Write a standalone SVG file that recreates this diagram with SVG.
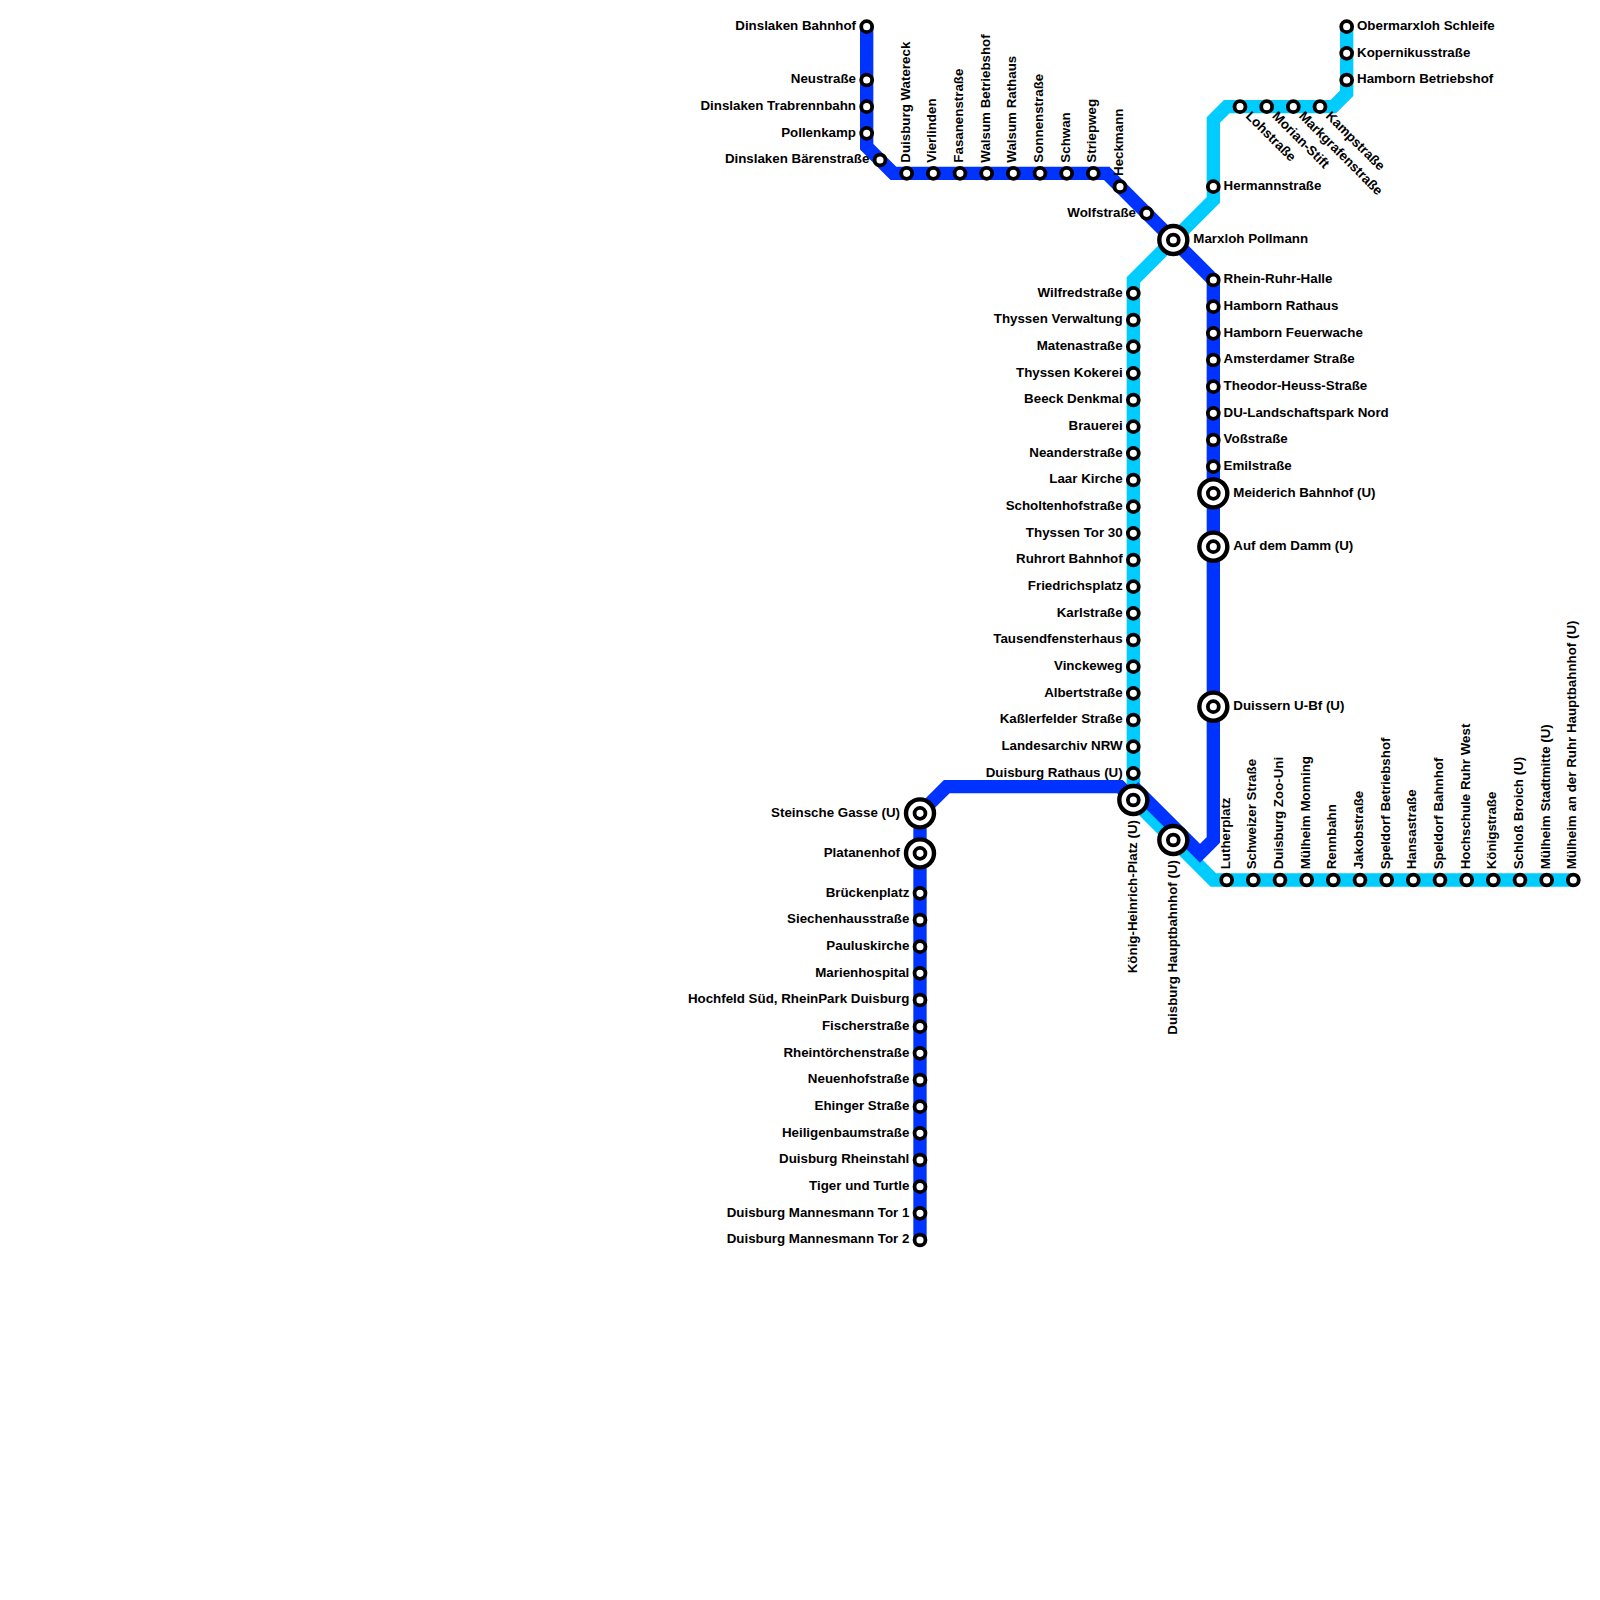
<svg xmlns="http://www.w3.org/2000/svg" width="1600" height="1600" viewBox="0 0 1600 1600">
<style>
text{font-family:"Liberation Sans",Arial,sans-serif;font-weight:bold;font-size:13.33px;fill:#000}
.l{text-anchor:end}
.line{fill:none;stroke-width:13.33;stroke-linejoin:miter}
.s{fill:#fff;stroke:#000;stroke-width:3.8}
.o{fill:#fff;stroke:#000;stroke-width:4.4}
</style>
<defs>
<circle id="st" class="s" r="5.45"/>
<g id="ic"><circle class="o" r="14"/><circle class="s" r="5.45"/></g>
</defs>
<rect width="1600" height="1600" fill="#fff"/>
<g id="connectors">
<path class="line" stroke="#00ccff" d="M1346.67,26.67V93.33L1333.33,106.67H1226.67L1213.33,120V200L1133.33,280V800L1213.33,880H1573.33"/>
<path class="line" stroke="#0033ff" d="M866.67,26.67V146.67L893.33,173.33H1106.67L1213.33,280V840L1200,853.33L1133.33,786.67"/>
<path class="line" stroke="#0033ff" d="M920,1240V813.33L946.67,786.67H1120L1133.33,800"/>
</g>
<g id="n1"><use href="#st" x="866.67" y="26.67"/><text class="l" x="856" y="30">Dinslaken Bahnhof</text></g>
<g id="n2"><use href="#st" x="866.67" y="80"/><text class="l" x="856" y="83.33">Neustraße</text></g>
<g id="n3"><use href="#st" x="866.67" y="106.67"/><text class="l" x="856" y="110">Dinslaken Trabrennbahn</text></g>
<g id="n4"><use href="#st" x="866.67" y="133.33"/><text class="l" x="856" y="136.67">Pollenkamp</text></g>
<g id="n5"><use href="#st" x="880" y="160"/><text class="l" x="869.33" y="163.33">Dinslaken Bärenstraße</text></g>
<g id="n6"><use href="#st" x="906.67" y="173.33"/><text transform="translate(909.7,162.67) rotate(-90)">Duisburg Watereck</text></g>
<g id="n7"><use href="#st" x="933.33" y="173.33"/><text transform="translate(936.33,162.67) rotate(-90)">Vierlinden</text></g>
<g id="n8"><use href="#st" x="960" y="173.33"/><text transform="translate(963,162.67) rotate(-90)">Fasanenstraße</text></g>
<g id="n9"><use href="#st" x="986.67" y="173.33"/><text transform="translate(989.67,162.67) rotate(-90)">Walsum Betriebshof</text></g>
<g id="n10"><use href="#st" x="1013.33" y="173.33"/><text transform="translate(1016.33,162.67) rotate(-90)">Walsum Rathaus</text></g>
<g id="n11"><use href="#st" x="1040" y="173.33"/><text transform="translate(1043,162.67) rotate(-90)">Sonnenstraße</text></g>
<g id="n12"><use href="#st" x="1066.67" y="173.33"/><text transform="translate(1069.67,162.67) rotate(-90)">Schwan</text></g>
<g id="n13"><use href="#st" x="1093.33" y="173.33"/><text transform="translate(1096.33,162.67) rotate(-90)">Striepweg</text></g>
<g id="n14"><use href="#st" x="1120" y="186.67"/><text transform="translate(1123,176) rotate(-90)">Heckmann</text></g>
<g id="n15"><use href="#st" x="1146.67" y="213.33"/><text class="l" x="1136" y="216.67">Wolfstraße</text></g>
<g id="n16"><use href="#ic" x="1173.33" y="240"/><text x="1193.33" y="243.33">Marxloh Pollmann</text></g>
<g id="n17"><use href="#st" x="1213.33" y="280"/><text x="1223.6" y="283.33">Rhein-Ruhr-Halle</text></g>
<g id="n18"><use href="#st" x="1213.33" y="306.67"/><text x="1223.6" y="310">Hamborn Rathaus</text></g>
<g id="n19"><use href="#st" x="1213.33" y="333.33"/><text x="1223.6" y="336.67">Hamborn Feuerwache</text></g>
<g id="n20"><use href="#st" x="1213.33" y="360"/><text x="1223.6" y="363.33">Amsterdamer Straße</text></g>
<g id="n21"><use href="#st" x="1213.33" y="386.67"/><text x="1223.6" y="390">Theodor-Heuss-Straße</text></g>
<g id="n22"><use href="#st" x="1213.33" y="413.33"/><text x="1223.6" y="416.67">DU-Landschaftspark Nord</text></g>
<g id="n23"><use href="#st" x="1213.33" y="440"/><text x="1223.6" y="443.33">Voßstraße</text></g>
<g id="n24"><use href="#st" x="1213.33" y="466.67"/><text x="1223.6" y="470">Emilstraße</text></g>
<g id="n25"><use href="#ic" x="1213.33" y="493.33"/><text x="1233.33" y="496.67">Meiderich Bahnhof (U)</text></g>
<g id="n26"><use href="#ic" x="1213.33" y="546.67"/><text x="1233.33" y="550">Auf dem Damm (U)</text></g>
<g id="n27"><use href="#ic" x="1213.33" y="706.67"/><text x="1233.33" y="710">Duissern U-Bf (U)</text></g>
<g id="n28"><use href="#st" x="1133.33" y="293.33"/><text class="l" x="1122.67" y="296.67">Wilfredstraße</text></g>
<g id="n29"><use href="#st" x="1133.33" y="320"/><text class="l" x="1122.67" y="323.33">Thyssen Verwaltung</text></g>
<g id="n30"><use href="#st" x="1133.33" y="346.67"/><text class="l" x="1122.67" y="350">Matenastraße</text></g>
<g id="n31"><use href="#st" x="1133.33" y="373.33"/><text class="l" x="1122.67" y="376.67">Thyssen Kokerei</text></g>
<g id="n32"><use href="#st" x="1133.33" y="400"/><text class="l" x="1122.67" y="403.33">Beeck Denkmal</text></g>
<g id="n33"><use href="#st" x="1133.33" y="426.67"/><text class="l" x="1122.67" y="430">Brauerei</text></g>
<g id="n34"><use href="#st" x="1133.33" y="453.33"/><text class="l" x="1122.67" y="456.67">Neanderstraße</text></g>
<g id="n35"><use href="#st" x="1133.33" y="480"/><text class="l" x="1122.67" y="483.33">Laar Kirche</text></g>
<g id="n36"><use href="#st" x="1133.33" y="506.67"/><text class="l" x="1122.67" y="510">Scholtenhofstraße</text></g>
<g id="n37"><use href="#st" x="1133.33" y="533.33"/><text class="l" x="1122.67" y="536.67">Thyssen Tor 30</text></g>
<g id="n38"><use href="#st" x="1133.33" y="560"/><text class="l" x="1122.67" y="563.33">Ruhrort Bahnhof</text></g>
<g id="n39"><use href="#st" x="1133.33" y="586.67"/><text class="l" x="1122.67" y="590">Friedrichsplatz</text></g>
<g id="n40"><use href="#st" x="1133.33" y="613.33"/><text class="l" x="1122.67" y="616.67">Karlstraße</text></g>
<g id="n41"><use href="#st" x="1133.33" y="640"/><text class="l" x="1122.67" y="643.33">Tausendfensterhaus</text></g>
<g id="n42"><use href="#st" x="1133.33" y="666.67"/><text class="l" x="1122.67" y="670">Vinckeweg</text></g>
<g id="n43"><use href="#st" x="1133.33" y="693.33"/><text class="l" x="1122.67" y="696.67">Albertstraße</text></g>
<g id="n44"><use href="#st" x="1133.33" y="720"/><text class="l" x="1122.67" y="723.33">Kaßlerfelder Straße</text></g>
<g id="n45"><use href="#st" x="1133.33" y="746.67"/><text class="l" x="1122.67" y="750">Landesarchiv NRW</text></g>
<g id="n46"><use href="#st" x="1133.33" y="773.33"/><text class="l" x="1122.67" y="776.67">Duisburg Rathaus (U)</text></g>
<g id="n47"><use href="#ic" x="1133.33" y="800"/><text class="l" transform="translate(1137,820) rotate(-90)">König-Heinrich-Platz (U)</text></g>
<g id="n48"><use href="#ic" x="1173.33" y="840"/><text class="l" transform="translate(1177,860) rotate(-90)">Duisburg Hauptbahnhof (U)</text></g>
<g id="n49"><use href="#st" x="1226.67" y="880"/><text transform="translate(1229.67,869.33) rotate(-90)">Lutherplatz</text></g>
<g id="n50"><use href="#st" x="1253.33" y="880"/><text transform="translate(1256.33,869.33) rotate(-90)">Schweizer Straße</text></g>
<g id="n51"><use href="#st" x="1280" y="880"/><text transform="translate(1283,869.33) rotate(-90)">Duisburg Zoo-Uni</text></g>
<g id="n52"><use href="#st" x="1306.67" y="880"/><text transform="translate(1309.67,869.33) rotate(-90)">Mülheim Monning</text></g>
<g id="n53"><use href="#st" x="1333.33" y="880"/><text transform="translate(1336.33,869.33) rotate(-90)">Rennbahn</text></g>
<g id="n54"><use href="#st" x="1360" y="880"/><text transform="translate(1363,869.33) rotate(-90)">Jakobstraße</text></g>
<g id="n55"><use href="#st" x="1386.67" y="880"/><text transform="translate(1389.67,869.33) rotate(-90)">Speldorf Betriebshof</text></g>
<g id="n56"><use href="#st" x="1413.33" y="880"/><text transform="translate(1416.33,869.33) rotate(-90)">Hansastraße</text></g>
<g id="n57"><use href="#st" x="1440" y="880"/><text transform="translate(1443,869.33) rotate(-90)">Speldorf Bahnhof</text></g>
<g id="n58"><use href="#st" x="1466.67" y="880"/><text transform="translate(1469.67,869.33) rotate(-90)">Hochschule Ruhr West</text></g>
<g id="n59"><use href="#st" x="1493.33" y="880"/><text transform="translate(1496.33,869.33) rotate(-90)">Königstraße</text></g>
<g id="n60"><use href="#st" x="1520" y="880"/><text transform="translate(1523,869.33) rotate(-90)">Schloß Broich (U)</text></g>
<g id="n61"><use href="#st" x="1546.67" y="880"/><text transform="translate(1549.67,869.33) rotate(-90)">Mülheim Stadtmitte (U)</text></g>
<g id="n62"><use href="#st" x="1573.33" y="880"/><text transform="translate(1576.33,869.33) rotate(-90)">Mülheim an der Ruhr Hauptbahnhof (U)</text></g>
<g id="n63"><use href="#st" x="1346.67" y="26.67"/><text x="1357" y="30">Obermarxloh Schleife</text></g>
<g id="n64"><use href="#st" x="1346.67" y="53.33"/><text x="1357" y="56.67">Kopernikusstraße</text></g>
<g id="n65"><use href="#st" x="1346.67" y="80"/><text x="1357" y="83.33">Hamborn Betriebshof</text></g>
<g id="n66"><use href="#st" x="1320" y="106.67"/><text transform="translate(1324.9,116.8) rotate(45)">Kampstraße</text></g>
<g id="n67"><use href="#st" x="1293.33" y="106.67"/><text transform="translate(1298.2,116.8) rotate(45)">Markgrafenstraße</text></g>
<g id="n68"><use href="#st" x="1266.67" y="106.67"/><text transform="translate(1271.57,116.8) rotate(45)">Morian-Stift</text></g>
<g id="n69"><use href="#st" x="1240" y="106.67"/><text transform="translate(1244.9,116.8) rotate(45)">Lohstraße</text></g>
<g id="n70"><use href="#st" x="1213.33" y="186.67"/><text x="1223.6" y="190">Hermannstraße</text></g>
<g id="n71"><use href="#ic" x="920" y="813.33"/><text class="l" x="900" y="816.67">Steinsche Gasse (U)</text></g>
<g id="n72"><use href="#ic" x="920" y="853.33"/><text class="l" x="900" y="856.67">Platanenhof</text></g>
<g id="n73"><use href="#st" x="920" y="893.33"/><text class="l" x="909.33" y="896.67">Brückenplatz</text></g>
<g id="n74"><use href="#st" x="920" y="920"/><text class="l" x="909.33" y="923.33">Siechenhausstraße</text></g>
<g id="n75"><use href="#st" x="920" y="946.67"/><text class="l" x="909.33" y="950">Pauluskirche</text></g>
<g id="n76"><use href="#st" x="920" y="973.33"/><text class="l" x="909.33" y="976.67">Marienhospital</text></g>
<g id="n77"><use href="#st" x="920" y="1000"/><text class="l" x="909.33" y="1003.33">Hochfeld Süd, RheinPark Duisburg</text></g>
<g id="n78"><use href="#st" x="920" y="1026.67"/><text class="l" x="909.33" y="1030">Fischerstraße</text></g>
<g id="n79"><use href="#st" x="920" y="1053.33"/><text class="l" x="909.33" y="1056.67">Rheintörchenstraße</text></g>
<g id="n80"><use href="#st" x="920" y="1080"/><text class="l" x="909.33" y="1083.33">Neuenhofstraße</text></g>
<g id="n81"><use href="#st" x="920" y="1106.67"/><text class="l" x="909.33" y="1110">Ehinger Straße</text></g>
<g id="n82"><use href="#st" x="920" y="1133.33"/><text class="l" x="909.33" y="1136.67">Heiligenbaumstraße</text></g>
<g id="n83"><use href="#st" x="920" y="1160"/><text class="l" x="909.33" y="1163.33">Duisburg Rheinstahl</text></g>
<g id="n84"><use href="#st" x="920" y="1186.67"/><text class="l" x="909.33" y="1190">Tiger und Turtle</text></g>
<g id="n85"><use href="#st" x="920" y="1213.33"/><text class="l" x="909.33" y="1216.67">Duisburg Mannesmann Tor 1</text></g>
<g id="n86"><use href="#st" x="920" y="1240"/><text class="l" x="909.33" y="1243.33">Duisburg Mannesmann Tor 2</text></g>
</svg>
